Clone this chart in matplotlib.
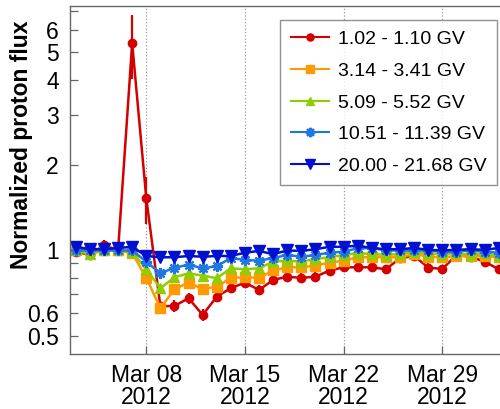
import matplotlib
matplotlib.use("Agg")
import matplotlib.pyplot as plt
import matplotlib.dates as mdates
from matplotlib.ticker import FixedLocator, FixedFormatter, NullFormatter
from matplotlib.lines import Line2D
import datetime as dt

plt.rcParams['font.family'] = ['Liberation Sans', 'DejaVu Sans']

# ---- data ----
dates = [dt.datetime(2012, 3, 3) + dt.timedelta(days=i) for i in range(31)]

red = [0.99, 0.965, 1.045, 1.00, 5.39, 1.53, 0.635, 0.637, 0.678, 0.592,
       0.687, 0.736, 0.77, 0.725, 0.787, 0.808, 0.80, 0.808, 0.849, 0.872,
       0.872, 0.872, 0.858, 0.939, 0.956, 0.87, 0.86, 0.964, 0.95, 0.913, 0.858]
red_err = [0.03, 0.03, 0.04, 0.03, 1.37, 0.29, 0.03, 0.03, 0.03, 0.03,
           0.03, 0.03, 0.03, 0.03, 0.03, 0.03, 0.03, 0.03, 0.03, 0.03,
           0.03, 0.03, 0.03, 0.03, 0.03, 0.03, 0.03, 0.03, 0.03, 0.03, 0.03]
orange = [1.00, 1.00, 1.00, 1.00, 0.98, 0.80, 0.625, 0.73, 0.77, 0.73,
          0.745, 0.80, 0.804, 0.80, 0.85, 0.872, 0.872, 0.884, 0.906, 0.92,
          0.946, 0.946, 0.946, 0.946, 0.972, 0.95, 0.946, 0.955, 0.955, 0.955, 0.946]
green = [1.00, 0.97, 1.00, 1.00, 0.99, 0.858, 0.735, 0.804, 0.83, 0.815,
         0.798, 0.865, 0.858, 0.865, 0.913, 0.92, 0.913, 0.933, 0.946, 0.964,
         0.977, 0.972, 0.964, 0.972, 0.99, 0.972, 0.972, 0.977, 0.964, 0.977, 0.955]
lblue = [1.00, 1.00, 1.00, 1.00, 1.00, 0.913, 0.83, 0.87, 0.89, 0.865,
         0.88, 0.94, 0.926, 0.92, 0.94, 0.964, 0.95, 0.964, 0.982, 0.99,
         1.018, 1.02, 1.00, 1.00, 1.00, 1.00, 0.99, 0.99, 1.00, 0.99, 0.982]
dblue = [1.03, 1.01, 1.01, 1.02, 1.03, 0.956, 0.946, 0.946, 0.956, 0.95,
         0.956, 0.956, 0.982, 0.996, 0.97, 1.00, 0.996, 1.01, 1.03, 1.03,
         1.04, 1.02, 1.01, 1.01, 1.02, 1.005, 1.00, 1.005, 1.01, 1.005, 1.02]
other_err = 0.012

labels = ['1.02 - 1.10 GV', '3.14 - 3.41 GV', '5.09 - 5.52 GV',
          '10.51 - 11.39 GV', '20.00 - 21.68 GV']
colors = ['#D40000', '#FF9A00', '#8FCC00', '#1F78E0', '#0010D0']

ytick_major = [0.5, 0.6, 1, 2, 3, 4, 5, 6]
ytick_labels = ['0.5', '0.6', '1', '2', '3', '4', '5', '6']
ytick_minor = [0.7, 0.8, 0.9, 7]
xtick_dates = [dt.datetime(2012, 3, 8), dt.datetime(2012, 3, 15),
               dt.datetime(2012, 3, 22), dt.datetime(2012, 3, 29)]

# ---- figure ----
fig = plt.figure(figsize=(5.0, 4.09), dpi=100)
W, H = 500, 409
left, right, top, bottom = 70, 500, 6, 354
ax = fig.add_axes([left / W, 1 - bottom / H, (right - left) / W, (bottom - top) / H])

series = [red, orange, green, lblue, dblue]
errs = [red_err, other_err, other_err, other_err, other_err]
markers = ['o', 's', '^', (8, 2, 0), 'v']
msizes = [6, 6.5, 7.5, 8, 8]

handles = []
for y, e, c, m, ms, lab in zip(series, errs, colors, markers, msizes, labels):
    mew = 1.6 if m == (8, 2, 0) else 1
    ax.errorbar(dates, y, yerr=e, color=c, marker=m, markersize=ms,
                markeredgecolor=c, markerfacecolor=c, mew=mew,
                lw=1.8, elinewidth=1.6, capsize=0)
    handles.append(Line2D([], [], color=c, marker=m, markersize=ms * 0.85,
                          markeredgecolor=c, markerfacecolor=c, mew=mew,
                          lw=1.5, label=lab))

ax.set_yscale('log')
ax.set_ylim(0.431, 7.29)
x0 = mdates.date2num(dt.datetime(2012, 3, 8)) - 5.41
x1 = mdates.date2num(dt.datetime(2012, 3, 8)) + 25.09
ax.set_xlim(x0, x1)

ax.yaxis.set_major_locator(FixedLocator(ytick_major))
ax.yaxis.set_major_formatter(FixedFormatter(ytick_labels))
ax.yaxis.set_minor_locator(FixedLocator(ytick_minor))
ax.yaxis.set_minor_formatter(NullFormatter())

ax.set_xticks(mdates.date2num(xtick_dates))
ax.xaxis.set_major_formatter(mdates.DateFormatter('%b %d\n%Y'))
ax.xaxis.set_minor_locator(FixedLocator([]))

ax.tick_params(axis='both', which='both', direction='in', length=6,
               width=0.9, color='#666666', labelsize=16.5, pad=8)
ax.tick_params(axis='x', pad=7)
for lbl in ax.get_xticklabels():
    lbl.set_horizontalalignment('center')
    lbl.set_multialignment('center')
    lbl.set_linespacing(0.95)

ax.grid(True, axis='x', which='major', linestyle=':', color='#999999', lw=0.9)
for s in ['left', 'bottom', 'top']:
    ax.spines[s].set_color('#666666')
    ax.spines[s].set_linewidth(1.0)
ax.spines['right'].set_visible(False)

fig.text(22 / W, 1 - 145 / H, 'Normalized proton flux', rotation=90,
         fontsize=16.5, fontweight='bold', ha='center', va='center')

leg = ax.legend(handles=handles, loc='upper right',
                bbox_to_anchor=((497 - left) / (right - left), (bottom - 20) / (bottom - top)),
                fontsize=14, frameon=True, fancybox=False, edgecolor='#777777',
                handlelength=1.95, handletextpad=0.45, labelspacing=0.72,
                borderpad=0.55, borderaxespad=0)
leg.get_frame().set_linewidth(1.0)

fig.savefig('out.png', dpi=100)
